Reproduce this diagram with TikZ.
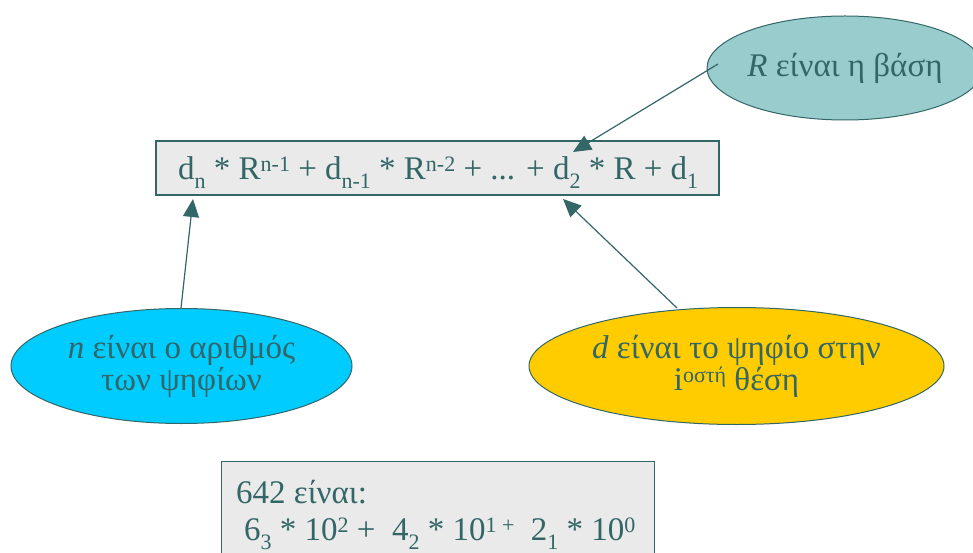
\documentclass[tikz,border=0pt]{standalone}
\usepackage{fontspec}
\setmainfont{Liberation Serif}
\usetikzlibrary{shapes.geometric,arrows.meta}
\definecolor{tealtxt}{RGB}{51,102,102}
\definecolor{boxfill}{RGB}{234,234,234}
\definecolor{rfill}{RGB}{153,204,204}
\definecolor{nfill}{RGB}{0,204,255}
\definecolor{dfill}{RGB}{255,204,0}
\newcommand\mysub[1]{\raisebox{-9pt}{\fontsize{22}{22}\selectfont #1}}
\newcommand\mysup[1]{\raisebox{8pt}{\fontsize{22}{22}\selectfont #1}}
\tikzset{
  bigtxt/.style={font=\fontsize{33}{32}\selectfont, text=tealtxt},
  boxstyle/.style={draw=tealtxt, line width=1.2pt, fill=boxfill, inner sep=0pt},
  ellstyle/.style={ellipse, draw=tealtxt, line width=1pt, inner sep=0pt, align=center, bigtxt},
  arr/.style={draw=tealtxt, line width=1.2pt, -{Triangle[length=18pt,width=16pt]}}
}
\begin{document}
\begin{tikzpicture}[x=1pt,y=-1pt]
\useasboundingbox (0,0) rectangle (973,553);
% main formula box
\node[boxstyle, minimum width=563pt, minimum height=54pt] (formula) at (437.5,168) {};
\node[bigtxt, anchor=base west, inner sep=0pt] (ftext) at (178,180)
  {d\mysub{n} * R\mysup{n-1} + d\mysub{n-1} * R\mysup{n-2} + ... + d\mysub{2} * R + d\mysub{1}};
% ellipses
\node[ellstyle, fill=rfill, minimum width=254pt, minimum height=104pt] (rell) at (845,68)
  {\textit{R} είναι η βάση};
\node[ellstyle, fill=nfill, minimum width=341pt, minimum height=115pt] (nell) at (181.5,366)
  {\textit{n} είναι ο αριθμός\\των ψηφίων};
\node[ellstyle, fill=dfill, minimum width=415pt, minimum height=117pt] (dell) at (736.5,366)
  {\textit{d} είναι το ψηφίο στην\\i\mysup{οστή} θέση};
% arrow targets
\coordinate (tipR) at (573,152);
\coordinate (tipN) at (193,199);
\coordinate (tipD) at (563,199);
\coordinate (startR) at (718,64);
\coordinate (startN) at (181,308);
\coordinate (startD) at (677,308);
\draw[arr] (startR) -- (tipR);
\draw[arr] (startN) -- (tipN);
\draw[arr] (startD) -- (tipD);
% example box
\node[boxstyle, minimum width=433pt, minimum height=120pt, anchor=north west] (ex) at (221,461) {};
\node[bigtxt, anchor=base west, inner sep=0pt] (ex1) at (236,503) {642 είναι:};
\node[bigtxt, anchor=base west, inner sep=0pt] (ex2) at (244,540)
  {6\mysub{3} * 10\mysup{2} +\ \ 4\mysub{2} * 10\mysup{1 +}\ \ 2\mysub{1} * 10\mysup{0}};
\end{tikzpicture}
\end{document}
